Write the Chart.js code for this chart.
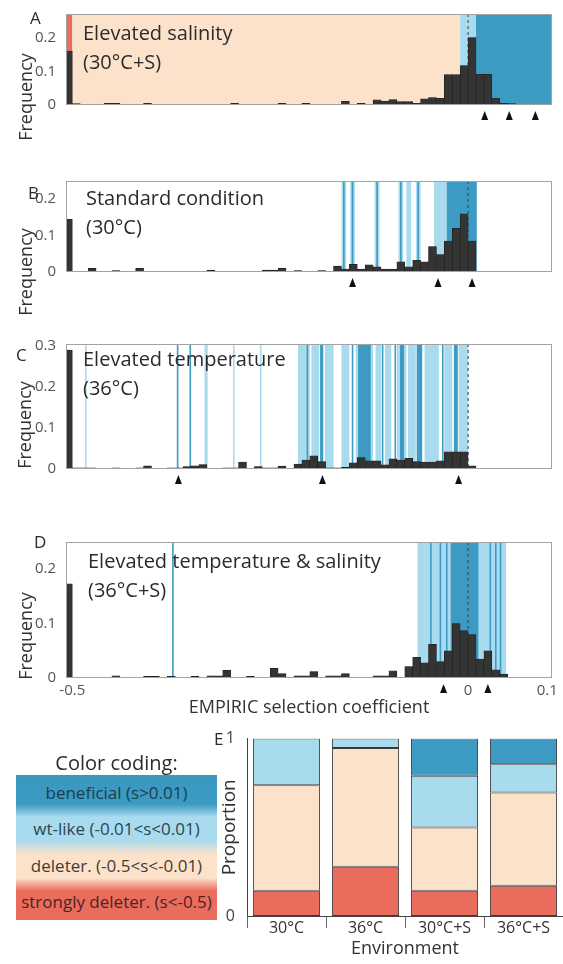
<!DOCTYPE html>
<html>
<head>
<meta charset="utf-8">
<script src="https://cdn.jsdelivr.net/npm/chart.js@4.4.1/dist/chart.umd.min.js"></script>
<style>
  body { margin: 0; width: 563px; height: 964px; position: relative; background: #fff; overflow: hidden; font-family: "Open Sans", sans-serif; }
  canvas { position: absolute; }
  .txt { position: absolute; color: #2b2b2b; white-space: nowrap; z-index: 2; }
  .letter { font-size: 17px; }
  .title { font-size: 20px; line-height: 29px; }
  .ylab { font-size: 18px; color: #333; transform: translate(-50%, -50%) rotate(-90deg); }
  #legend { position: absolute; left: 16px; top: 775px; width: 201px; height: 145px;
    background: linear-gradient(to bottom, #3a97c0 0%, #3d9ac2 20%, #a9dbee 29%, #a9dbee 45%, #fde2cb 55%, #fde2cb 71%, #ea6c5d 80%, #ea6c5d 100%); }
  #legend div { height: 36.25px; line-height: 36px; text-align: center; font-size: 17px; white-space: nowrap; }
</style>
</head>
<body>
<canvas id="chartA" width="563" height="180" style="left:0;top:0"></canvas>
<canvas id="chartB" width="563" height="180" style="left:0;top:170px"></canvas>
<canvas id="chartC" width="563" height="205" style="left:0;top:330px"></canvas>
<canvas id="chartD" width="563" height="200" style="left:0;top:525px"></canvas>
<canvas id="chartE" width="373" height="239" style="left:190px;top:725px"></canvas>

<div class="txt letter" style="left:30px;top:6px">A</div>
<div class="txt letter" style="left:28px;top:181px">B</div>
<div class="txt letter" style="left:16px;top:343px">C</div>
<div class="txt letter" style="left:34px;top:530px">D</div>
<div class="txt letter" style="left:214px;top:727px">E</div>

<div class="txt ylab" style="left:25px;top:97px">Frequency</div>
<div class="txt ylab" style="left:25px;top:272px">Frequency</div>
<div class="txt ylab" style="left:24px;top:425px">Frequency</div>
<div class="txt ylab" style="left:25px;top:636px">Frequency</div>

<div class="txt title" style="left:83px;top:18px">Elevated salinity<br>(30°C+S)</div>
<div class="txt title" style="left:86px;top:183px">Standard condition<br>(30°C)</div>
<div class="txt title" style="left:83px;top:344px">Elevated temperature<br>(36°C)</div>
<div class="txt title" style="left:88px;top:546px">Elevated temperature &amp; salinity<br>(36°C+S)</div>

<div class="txt" style="left:16px;width:201px;top:749px;text-align:center;font-size:20px">Color coding:</div>
<div id="legend">
  <div style="color:#1a3f50">beneficial (s&gt;0.01)</div>
  <div style="color:#2c4550">wt-like (-0.01&lt;s&lt;0.01)</div>
  <div style="color:#453a33">deleter. (-0.5&lt;s&lt;-0.01)</div>
  <div style="color:#4a241f">strongly deleter. (s&lt;-0.5)</div>
</div>

<script>
// histogram bins (centres of 0.01-wide bins; the first one holds s < -0.5)
const binCenters = [
  -0.505, -0.495, -0.485, -0.475, -0.465, -0.455, -0.445, -0.435, -0.425, -0.415,
  -0.405, -0.395, -0.385, -0.375, -0.365, -0.355, -0.345, -0.335, -0.325, -0.315,
  -0.305, -0.295, -0.285, -0.275, -0.265, -0.255, -0.245, -0.235, -0.225, -0.215,
  -0.205, -0.195, -0.185, -0.175, -0.165, -0.155, -0.145, -0.135, -0.125, -0.115,
  -0.105, -0.095, -0.085, -0.075, -0.065, -0.055, -0.045, -0.035, -0.025, -0.015,
  -0.005, 0.005, 0.015, 0.025, 0.035, 0.045, 0.055, 0.065, 0.075, 0.085,
  0.095
]

const freqA = [
  0.16, 0.004, 0, 0, 0, 0.005, 0.005, 0, 0, 0,
  0.005, 0, 0, 0, 0, 0, 0, 0, 0, 0,
  0, 0.005, 0, 0, 0, 0, 0, 0.005, 0, 0,
  0.005, 0, 0, 0, 0, 0.011, 0, 0.005, 0, 0.015,
  0.012, 0.016, 0.01, 0.01, 0.005, 0.018, 0.022, 0.02, 0.09, 0.09,
  0.117, 0.2, 0.091, 0.091, 0.02, 0.005, 0.004, 0, 0, 0,
  0
]
const freqB = [
  0.145, 0, 0, 0.01, 0, 0, 0.004, 0, 0, 0.01,
  0, 0, 0, 0, 0, 0, 0, 0, 0.005, 0,
  0, 0, 0, 0, 0, 0.005, 0.005, 0.01, 0, 0.004,
  0, 0, 0.004, 0, 0.016, 0.008, 0.021, 0.008, 0.02, 0.014,
  0.008, 0.008, 0.028, 0.014, 0.032, 0.028, 0.07, 0.048, 0.085, 0.12,
  0.16, 0.085, 0, 0, 0, 0, 0, 0, 0, 0,
  0
]
const freqC = [
  0.29, 0.003, 0.003, 0.003, 0, 0, 0.003, 0, 0, 0.003,
  0.008, 0, 0, 0.003, 0.003, 0.006, 0.008, 0.011, 0, 0,
  0.003, 0.003, 0.017, 0, 0.006, 0.003, 0.003, 0.007, 0, 0.012,
  0.022, 0.032, 0.018, 0.003, 0.003, 0.004, 0.015, 0.028, 0.02, 0.02,
  0.01, 0.025, 0.022, 0.026, 0.018, 0.017, 0.017, 0.02, 0.042, 0.042,
  0.042, 0.008, 0, 0, 0, 0, 0, 0, 0, 0,
  0
]
const freqD = [
  0.173, 0, 0, 0, 0, 0, 0.004, 0, 0, 0,
  0.003, 0.003, 0, 0.003, 0, 0, 0.003, 0, 0.004, 0.004,
  0.014, 0, 0, 0.003, 0, 0, 0.018, 0.008, 0, 0.004,
  0.004, 0.012, 0, 0.004, 0.004, 0.008, 0, 0, 0, 0.004,
  0.004, 0.013, 0, 0.021, 0.038, 0.028, 0.062, 0.03, 0.05, 0.1,
  0.087, 0.08, 0.035, 0.05, 0.015, 0.007, 0, 0, 0, 0,
  0
]

// shaded s-ranges behind each histogram: [from, to, class]
const bandsA = [[-0.51, -0.5, 'strong'], [-0.5, -0.01, 'deleter'], [-0.01, 0.01, 'wt'], [0.01, 0.11, 'ben']]
const bandsB = [
  [-0.16, -0.154, 'wt'], [-0.149, -0.143, 'wt'], [-0.118, -0.112, 'wt'], [-0.088, -0.082, 'wt'],
  [-0.078, -0.072, 'wt'], [-0.066, -0.06, 'wt'], [-0.043, -0.027, 'wt'],
  [-0.158, -0.156, 'ben'], [-0.147, -0.145, 'ben'], [-0.116, -0.114, 'ben'], [-0.086, -0.084, 'ben'],
  [-0.064, -0.062, 'ben'], [-0.027, 0.011, 'ben']
]
const bandsC = [
  [-0.484, -0.482, 'wt'], [-0.333, -0.329, 'wt'], [-0.297, -0.295, 'wt'], [-0.263, -0.261, 'wt'],
  [-0.215, -0.2, 'wt'], [-0.198, -0.188, 'wt'], [-0.181, -0.17, 'wt'], [-0.16, -0.15, 'wt'],
  [-0.142, -0.12, 'wt'], [-0.117, -0.11, 'wt'], [-0.105, -0.097, 'wt'], [-0.09, -0.078, 'wt'],
  [-0.076, -0.066, 'wt'], [-0.055, -0.037, 'wt'], [-0.03, -0.02, 'wt'], [-0.012, 0, 'wt'],
  [-0.368, -0.366, 'ben'], [-0.352, -0.35, 'ben'], [-0.204, -0.202, 'ben'], [-0.187, -0.183, 'ben'],
  [-0.147, -0.145, 'ben'], [-0.139, -0.123, 'ben'], [-0.109, -0.107, 'ben'], [-0.093, -0.091, 'ben'],
  [-0.086, -0.081, 'ben'], [-0.065, -0.058, 'ben'], [-0.033, -0.031, 'ben'], [-0.018, -0.013, 'ben']
]
const bandsD = [
  [-0.064, 0.048, 'wt'],
  [-0.374, -0.372, 'ben'], [-0.048, -0.046, 'ben'], [-0.036, -0.034, 'ben'], [-0.028, -0.026, 'ben'],
  [-0.022, 0.013, 'ben'], [0.027, 0.029, 'ben'], [0.034, 0.036, 'ben'], [0.04, 0.042, 'ben']
]

// arrowheads under each panel (s values)
const arrowsA = [0.021, 0.052, 0.085]
const arrowsB = [-0.146, -0.038, 0.005]
const arrowsC = [-0.366, -0.184, -0.012]
const arrowsD = [-0.031, 0.025]

const xTicks = [-0.5, 0, 0.1]
const yTicksLow = [0, 0.1, 0.2]
const yTicksHigh = [0, 0.1, 0.2, 0.3]

// panel E
const envLabels = ['30°C', '36°C', '30°C+S', '36°C+S']
const strongVals = [0.143, 0.278, 0.143, 0.171]
const deleterVals = [0.594, 0.669, 0.356, 0.525]
const wtVals = [0.263, 0.053, 0.291, 0.16]
const benVals = [0, 0, 0.21, 0.144]

const colors = { strong: '#ea6c5d', deleter: '#fde2cb', wt: '#a9dbee', ben: '#3d9bc3' }
Chart.defaults.font.family = '"Open Sans", sans-serif'

function panelPlugin(bands, arrows) {
  return {
    id: 'panelDeco',
    beforeDatasetsDraw(chart) {
      const { ctx, chartArea: a, scales: { x } } = chart
      ctx.save()
      ctx.beginPath()
      ctx.rect(a.left, a.top, a.width, a.height)
      ctx.clip()
      bands.forEach(([from, to, cls]) => {
        const x0 = x.getPixelForValue(from)
        const x1 = x.getPixelForValue(to)
        ctx.fillStyle = colors[cls]
        ctx.fillRect(x0, a.top, Math.max(x1 - x0, 1.6), a.height)
      })
      const z = x.getPixelForValue(0)
      ctx.strokeStyle = '#2f4450'
      ctx.lineWidth = 1
      ctx.setLineDash([3, 3])
      ctx.beginPath()
      ctx.moveTo(z, a.top)
      ctx.lineTo(z, a.bottom)
      ctx.stroke()
      ctx.restore()
    },
    afterDraw(chart) {
      const { ctx, chartArea: a, scales: { x } } = chart
      ctx.save()
      ctx.strokeStyle = '#a3a3a3'
      ctx.lineWidth = 1
      ctx.strokeRect(a.left + 0.5, a.top + 0.5, a.width - 1, a.height - 1)
      ctx.fillStyle = '#111'
      arrows.forEach(s => {
        const px = x.getPixelForValue(s)
        ctx.beginPath()
        ctx.moveTo(px, a.bottom + 6)
        ctx.lineTo(px - 3.5, a.bottom + 15)
        ctx.lineTo(px + 3.5, a.bottom + 15)
        ctx.closePath()
        ctx.fill()
      })
      ctx.restore()
    }
  }
}

function makePanel(id, freq, bands, arrows, ymax, yTicks, padding, showX) {
  return new Chart(document.getElementById(id), {
    type: 'bar',
    data: {
      datasets: [{
        data: binCenters.map((c, i) => ({ x: c, y: freq[i] })),
        backgroundColor: '#343434',
        borderColor: '#1c1c1c',
        borderWidth: 0.6,
        barPercentage: 1,
        categoryPercentage: 1
      }]
    },
    options: {
      responsive: false,
      animation: false,
      layout: { padding },
      plugins: { legend: { display: false }, tooltip: { enabled: false } },
      scales: {
        x: {
          type: 'linear', min: -0.508, max: 0.106, offset: false, display: showX,
          afterBuildTicks: s => { s.ticks = xTicks.map(v => ({ value: v })) },
          grid: { display: false, drawTicks: false }, border: { display: false },
          ticks: { padding: 4, color: '#555', font: { size: 15 }, callback: v => String(v) },
          title: { display: true, text: 'EMPIRIC selection coefficient', color: '#333', font: { size: 18 }, padding: { top: 0, bottom: 6 } },
          afterFit: s => { s.height = 47 }
        },
        y: {
          min: 0, max: ymax,
          afterBuildTicks: s => { s.ticks = yTicks.map(v => ({ value: v })) },
          grid: { display: false }, border: { display: false },
          ticks: { padding: 2, color: '#555', font: { size: 15 }, callback: v => String(v) },
          afterFit: s => { s.width = 54 }
        }
      }
    },
    plugins: [panelPlugin(bands, arrows)]
  })
}

makePanel('chartA', freqA, bandsA, arrowsA, 0.27, yTicksLow, { left: 12, top: 14, right: 11, bottom: 28 }, false)
makePanel('chartB', freqB, bandsB, arrowsB, 0.25, yTicksLow, { left: 12, top: 11, right: 11, bottom: 31 }, false)
makePanel('chartC', freqC, bandsC, arrowsC, 0.305, yTicksHigh, { left: 12, top: 14, right: 11, bottom: 19 }, false)
makePanel('chartD', freqD, bandsD, arrowsD, 0.25, yTicksLow, { left: 12, top: 17, right: 11, bottom: 0 }, true)

const segStyle = { borderColor: '#3c3c3c', borderWidth: 1, borderSkipped: false, barPercentage: 0.85, categoryPercentage: 1 }
new Chart(document.getElementById('chartE'), {
  type: 'bar',
  data: {
    labels: envLabels,
    datasets: [
      { label: 'strongly deleter.', data: strongVals, backgroundColor: colors.strong, ...segStyle },
      { label: 'deleter.', data: deleterVals, backgroundColor: colors.deleter, ...segStyle },
      { label: 'wt-like', data: wtVals, backgroundColor: colors.wt, ...segStyle },
      { label: 'beneficial', data: benVals, backgroundColor: colors.ben, ...segStyle }
    ]
  },
  options: {
    responsive: false,
    animation: false,
    layout: { padding: { left: 24, top: 13, right: 0, bottom: 0 } },
    plugins: { legend: { display: false }, tooltip: { enabled: false } },
    scales: {
      x: {
        stacked: true,
        grid: { offset: true, drawOnChartArea: false, tickLength: 12, color: '#666' },
        border: { color: '#444' },
        ticks: { padding: -9, color: '#333', font: { size: 16 } },
        title: { display: true, text: 'Environment', color: '#333', font: { size: 18 }, padding: { top: 0, bottom: 4 } },
        afterFit: s => { s.height = 48 }
      },
      y: {
        stacked: true, min: 0, max: 1,
        afterBuildTicks: s => { s.ticks = [0, 1].map(v => ({ value: v })) },
        grid: { display: false },
        border: { color: '#444' },
        ticks: { padding: 4, color: '#444', font: { size: 16 } },
        title: { display: true, text: 'Proportion', color: '#333', font: { size: 19 }, padding: { top: 4, bottom: 0 } },
        afterFit: s => { s.width = 33 }
      }
    }
  }
})
</script>
</body>
</html>
